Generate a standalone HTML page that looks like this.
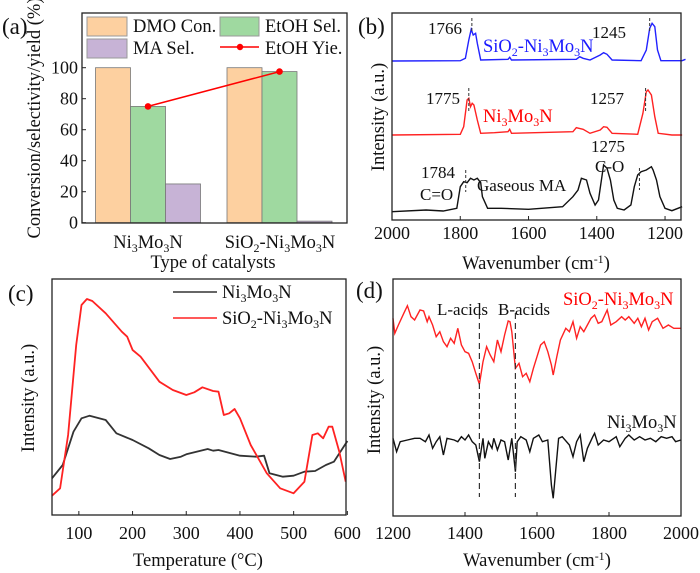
<!DOCTYPE html>
<html><head><meta charset="utf-8">
<style>
html,body{margin:0;padding:0;background:#fff;}
svg{display:block;font-family:"Liberation Serif",serif;}
text{font-size:18.5px;fill:#111;}
.tk{font-size:18px;}
</style></head>
<body>
<svg id="fig" width="700" height="573" viewBox="0 0 700 573">
<text x="2" y="34" style="font-size:23px">(a)</text>
<text x="358" y="34" style="font-size:23px">(b)</text>
<text x="8" y="301" style="font-size:23px">(c)</text>
<text x="356" y="298" style="font-size:23px">(d)</text>

<g id="pa"></g>
<rect x="82" y="13" width="265" height="210" fill="none" stroke="#222" stroke-width="1.3"/>
<text transform="translate(40,118) rotate(-90)" text-anchor="middle">Conversion/selectivity/yield (%)</text>
<text x="148" y="248" text-anchor="middle">Ni<tspan dy="4" style="font-size:12px">3</tspan><tspan dy="-4">Mo</tspan><tspan dy="4" style="font-size:12px">3</tspan><tspan dy="-4">N</tspan></text>
<text x="280" y="248" text-anchor="middle">SiO<tspan dy="4" style="font-size:12px">2</tspan><tspan dy="-4">-Ni</tspan><tspan dy="4" style="font-size:12px">3</tspan><tspan dy="-4">Mo</tspan><tspan dy="4" style="font-size:12px">3</tspan><tspan dy="-4">N</tspan></text>
<text x="213" y="268" text-anchor="middle">Type of catalysts</text>
<g>
<rect x="87" y="17" width="40" height="19" fill="#fdd0a0" stroke="#999"/>
<text x="133" y="32">DMO Con.</text>
<rect x="220" y="17" width="39" height="19" fill="#9fd9a0" stroke="#999"/>
<text x="265" y="32">EtOH Sel.</text>
<rect x="87" y="39" width="40" height="19" fill="#c7b3d6" stroke="#999"/>
<text x="133" y="54">MA Sel.</text>
<line x1="220" y1="47" x2="259" y2="47" stroke="#f00" stroke-width="1.5"/>
<circle cx="240" cy="47" r="3.2" fill="#f00"/>
<text x="265" y="54">EtOH Yie.</text>
</g>

<g id="pb"></g>
<rect x="392" y="13" width="289" height="207" fill="none" stroke="#222" stroke-width="1.3"/>
<text transform="translate(384,117) rotate(-90)" text-anchor="middle">Intensity (a.u.)</text>
<text x="536" y="269" text-anchor="middle">Wavenumber (cm<tspan dy="-6" style="font-size:12px">-1</tspan><tspan dy="6">)</tspan></text>
<text x="428" y="34" style="font-size:17px">1766</text>
<text x="592" y="38" style="font-size:17px">1245</text>
<text x="483" y="52" style="font-size:18.5px;fill:#1a1aff">SiO<tspan dy="4" style="font-size:12px">2</tspan><tspan dy="-4">-Ni</tspan><tspan dy="4" style="font-size:12px">3</tspan><tspan dy="-4">Mo</tspan><tspan dy="4" style="font-size:12px">3</tspan><tspan dy="-4">N</tspan></text>
<text x="426" y="104" style="font-size:17px">1775</text>
<text x="590" y="104" style="font-size:17px">1257</text>
<text x="483" y="122" style="font-size:18.5px;fill:#f00">Ni<tspan dy="4" style="font-size:12px">3</tspan><tspan dy="-4">Mo</tspan><tspan dy="4" style="font-size:12px">3</tspan><tspan dy="-4">N</tspan></text>
<text x="591" y="152" style="font-size:17px">1275</text>
<text x="595" y="172" style="font-size:17px">C-O</text>
<text x="421" y="178" style="font-size:17px">1784</text>
<text x="420" y="200" style="font-size:17px">C=O</text>
<text x="477" y="191" style="font-size:17px">Gaseous MA</text>

<g id="pc"></g>
<rect x="52" y="279" width="294" height="236" fill="none" stroke="#222" stroke-width="1.3"/>
<text transform="translate(34,398) rotate(-90)" text-anchor="middle">Intensity (a.u.)</text>
<text x="198" y="566" text-anchor="middle">Temperature (°C)</text>
<g>
<line x1="173" y1="292" x2="217" y2="292" stroke="#333" stroke-width="1.5"/>
<text x="222" y="298">Ni<tspan dy="4" style="font-size:12px">3</tspan><tspan dy="-4">Mo</tspan><tspan dy="4" style="font-size:12px">3</tspan><tspan dy="-4">N</tspan></text>
<line x1="173" y1="318" x2="217" y2="318" stroke="#f22" stroke-width="1.5"/>
<text x="222" y="324">SiO<tspan dy="4" style="font-size:12px">2</tspan><tspan dy="-4">-Ni</tspan><tspan dy="4" style="font-size:12px">3</tspan><tspan dy="-4">Mo</tspan><tspan dy="4" style="font-size:12px">3</tspan><tspan dy="-4">N</tspan></text>
</g>

<g id="pd"></g>
<rect x="393" y="279" width="288" height="237" fill="none" stroke="#222" stroke-width="1.3"/>
<text transform="translate(380,400) rotate(-90)" text-anchor="middle">Intensity (a.u.)</text>
<text x="537" y="566" text-anchor="middle">Wavenumber (cm<tspan dy="-6" style="font-size:12px">-1</tspan><tspan dy="6">)</tspan></text>
<text x="563" y="305" style="font-size:18.5px;fill:#f00">SiO<tspan dy="4" style="font-size:12px">2</tspan><tspan dy="-4">-Ni</tspan><tspan dy="4" style="font-size:12px">3</tspan><tspan dy="-4">Mo</tspan><tspan dy="4" style="font-size:12px">3</tspan><tspan dy="-4">N</tspan></text>
<text x="437" y="315" style="font-size:17px">L-acids</text>
<text x="498" y="315" style="font-size:17px">B-acids</text>
<text x="607" y="428" style="font-size:18.5px">Ni<tspan dy="4" style="font-size:12px">3</tspan><tspan dy="-4">Mo</tspan><tspan dy="4" style="font-size:12px">3</tspan><tspan dy="-4">N</tspan></text>
</svg>

<script>
const catA = ["Ni3Mo3N", "SiO2-Ni3Mo3N"];
const dmoCon = [100, 100];
const etohSel = [75, 97.5];
const maSel = [25, 1];
const etohYie = [75, 97.5];
const yTicksA = [0, 20, 40, 60, 80, 100];

const bBlackW = [2000,1900,1850,1810,1800,1790,1780,1770,1760,1750,1740,1735,1720,1680,1600,1500,1470,1455,1445,1430,1420,1405,1395,1385,1380,1370,1360,1350,1340,1320,1300,1290,1280,1270,1255,1240,1235,1225,1215,1200,1180,1150];
const bBlackI = [8.3,10,9,11.7,33.3,38.3,37.3,41.7,40,41.7,37.3,23.3,11.7,11.7,10.7,13.3,23.3,30,41.7,40,26.7,15,20,43.3,55,51.7,40,20,11.7,10,15,33.3,45,48.3,50,53.3,50,40,23.3,11.7,9.3,13.3];
const bRedW = [2000,1800,1790,1780,1775,1770,1765,1760,1750,1740,1700,1660,1655,1650,1470,1460,1440,1420,1390,1380,1370,1355,1280,1265,1255,1250,1240,1230,1220,1180,1150];
const bRedI = [85,85.7,93.3,120,121.7,113.3,116.7,115,100,86.7,87.3,88.3,90.7,86.7,88.3,92.3,90.7,86.7,90,93.3,92.7,86.7,85.7,106.7,128.3,130,125,103.3,86.7,85,85];
const bBlueW = [2000,1800,1785,1775,1768,1762,1755,1750,1740,1660,1655,1650,1460,1450,1440,1420,1390,1380,1370,1355,1270,1255,1245,1238,1230,1222,1212,1150,1140];
const bBlueI = [159,159.3,161.7,180,190.7,185,186.7,176.7,160,160.7,162.7,160,160.7,163.3,161.7,160,165,167.3,165.7,160,159.3,170,191.7,196.7,193.3,170,159.3,159.3,160.7];
const xTicksB = [2000, 1800, 1600, 1400, 1200];
const peakMarksB = [[1766,18,32],[1245,18,32],[1775,88,112],[1257,88,112],[1784,170,192],[1275,168,190]];

const cBlackT = [50,70,90,105,120,150,160,170,200,230,250,270,290,300,340,350,360,400,430,445,455,480,500,520,540,560,575,600];
const cBlackI = [36.7,50,83.3,96.7,99.3,95,88.3,81.7,75,66.7,60,56,58.3,60.7,66,64.3,65,59.3,58.3,59.3,41.7,38.3,39.3,43.3,44,50,53.3,74];
const cRedT = [50,65,80,95,105,115,125,150,180,190,200,215,250,275,300,315,330,350,360,370,380,390,400,420,450,475,500,520,535,545,555,565,572,585,597];
const cRedI = [19.3,26.7,80,170,210,216,214,201.7,183.3,178.3,165,158.3,133.3,125,120,122.7,127.7,124,123.3,100,101.7,106,96.7,70,41.7,26.7,21.7,33.3,80,81.7,76.7,88.3,88.3,63.3,33.3];
const xTicksC = [100, 200, 300, 400, 500, 600];

const dRedW = [1200,1205,1215,1230,1240,1250,1260,1275,1285,1295,1300,1310,1320,1330,1340,1350,1360,1370,1380,1390,1400,1410,1420,1430,1440,1450,1460,1470,1480,1490,1500,1510,1520,1525,1530,1540,1550,1560,1570,1580,1590,1600,1610,1620,1630,1640,1645,1655,1665,1680,1690,1700,1710,1720,1730,1740,1750,1760,1770,1780,1795,1805,1820,1835,1845,1855,1870,1880,1890,1900,1910,1920,1935,1950,1965,1980,2000];
const dRedI = [197.7,182.7,191,202.7,210.3,199.3,196,206,205,194.3,199.3,191,179.3,184.3,174.3,169.3,177.7,172.7,187.7,171,164.3,162.7,154.3,142.7,131.7,154.3,169.3,161,154.3,176,164.3,181,195,194.3,184.3,147.7,152.7,139.3,142.7,134.3,147.7,159.3,171,174.3,164.3,151,141,159.3,176,187.7,184.3,194.3,177.7,189.3,184.3,191,197.7,201,192.7,194.3,206,191,194.3,199.3,196,199.3,192.7,197.7,189.3,197.7,186,194.3,197.7,187.7,191,187.7,187.7];
const dBlackW = [1200,1210,1220,1240,1260,1275,1290,1300,1310,1320,1330,1340,1350,1370,1380,1390,1400,1410,1420,1430,1440,1450,1455,1465,1475,1480,1490,1500,1510,1520,1530,1540,1545,1555,1570,1580,1590,1605,1615,1630,1640,1645,1650,1660,1670,1690,1700,1710,1720,1730,1740,1755,1760,1770,1785,1800,1820,1830,1845,1855,1870,1885,1900,1915,1930,1945,1960,1975,1985,2000];
const dBlackI = [77.7,64.3,74.3,76,77.7,77.7,74.3,81,67.7,74.3,79.3,61,77.7,76,74.3,79.3,76,81,74.3,71,54.3,77.7,57.7,74.3,67.7,77.7,66,76,74.3,56,77.7,44.3,74.3,79.3,76,64.3,77.7,81,74.3,76,31,17.7,37.7,77.7,79.3,71,59.3,74.3,81,54.3,67.7,79.3,82.7,71,76,74.3,79.3,69.3,77.7,81,76,79.3,76,77.7,74.3,79.3,77.7,79.3,74.3,76];
const xTicksD = [1200, 1400, 1600, 1800, 2000];
const acidLinesD = [1440, 1540];

const NS = "http://www.w3.org/2000/svg";
function mk(parent, tag, attrs) {
  const e = document.createElementNS(NS, tag);
  for (const k in attrs) e.setAttribute(k, attrs[k]);
  parent.appendChild(e);
  return e;
}
function pathFrom(xs, ys, sx, sy) {
  return xs.map((x, i) => (i ? "L" : "M") + sx(x).toFixed(1) + "," + sy(ys[i]).toFixed(1)).join("");
}

(function () {
  const g = document.getElementById("pa");
  const y = v => 222.7 - v * 1.55;
  const groupC = i => 148 + i * 131.5;
  const bw = 35;
  const series = [[dmoCon, "#fdd0a0", "dmo-con"], [etohSel, "#9fd9a0", "etoh-sel"], [maSel, "#c7b3d6", "ma-sel"]];
  series.forEach((s, si) => {
    s[0].forEach((v, i) => {
      const x = groupC(i) + (si - 1) * bw - bw / 2;
      const r = mk(g, "rect", { x: x, y: y(v), width: bw, height: 222.7 - y(v), fill: s[1], stroke: "#777", "stroke-width": 0.8 });
      
      
    });
  });
  const ln = mk(g, "path", { d: pathFrom(etohYie.map((v, i) => i), etohYie, groupC, y), stroke: "#f00", "stroke-width": 1.5, fill: "none" });
  
  
  etohYie.forEach((v, i) => {
    const c = mk(g, "circle", { cx: groupC(i), cy: y(v), r: 3.3, fill: "#f00" });
    
    
  });
  yTicksA.forEach(t => {
    const l = mk(g, "line", { x1: 82, x2: 86, y1: y(t), y2: y(t), stroke: "#222" });
    
    
    const tx = mk(g, "text", { x: 78, y: y(t) + 6, "text-anchor": "end", class: "tk" });
    tx.textContent = t;
    
    
  });
})();

(function () {
  const g = document.getElementById("pb");
  const x = w => 392 + (2000 - w) * 0.3413;
  const y = v => 220 - v;
  [[bBlackW, bBlackI, "#111", "spectrum-gaseous-ma"], [bRedW, bRedI, "#f22", "spectrum-ni3mo3n"], [bBlueW, bBlueI, "#22f", "spectrum-sio2-ni3mo3n"]].forEach(s => {
    const p = mk(g, "path", { d: pathFrom(s[0], s[1], x, y), stroke: s[2], "stroke-width": 1.4, fill: "none" });
    
    
  });
  peakMarksB.forEach(m => {
    const l = mk(g, "line", { x1: x(m[0]), x2: x(m[0]), y1: m[1], y2: m[2], stroke: "#333", "stroke-dasharray": "3,2" });
    
    
  });
  xTicksB.forEach(t => {
    const l = mk(g, "line", { x1: x(t), x2: x(t), y1: 220, y2: 216, stroke: "#222" });
    
    
    const tx = mk(g, "text", { x: x(t), y: 239, "text-anchor": "middle", class: "tk" });
    tx.textContent = t;
    
    
  });
})();

(function () {
  const g = document.getElementById("pc");
  const x = t => 52 + (t - 50) * 0.537;
  const y = v => 515 - v;
  [[cBlackT, cBlackI, "#333", "tpd-ni3mo3n"], [cRedT, cRedI, "#f22", "tpd-sio2-ni3mo3n"]].forEach(s => {
    const p = mk(g, "path", { d: pathFrom(s[0], s[1], x, y), stroke: s[2], "stroke-width": 1.8, fill: "none", "stroke-linejoin": "round" });
    
    
  });
  xTicksC.forEach(t => {
    const l = mk(g, "line", { x1: x(t), x2: x(t), y1: 515, y2: 511, stroke: "#222" });
    
    
    const tx = mk(g, "text", { x: x(t), y: 539, "text-anchor": "middle", class: "tk" });
    tx.textContent = t;
    
    
  });
})();

(function () {
  const g = document.getElementById("pd");
  const x = w => 393 + (w - 1200) * 0.36;
  const y = v => 516 - v;
  [[dBlackW, dBlackI, "#111", "pyir-ni3mo3n"], [dRedW, dRedI, "#f22", "pyir-sio2-ni3mo3n"]].forEach(s => {
    const p = mk(g, "path", { d: pathFrom(s[0], s[1], x, y), stroke: s[2], "stroke-width": 1.4, fill: "none" });
    
    
  });
  acidLinesD.forEach(w => {
    const l = mk(g, "line", { x1: x(w), x2: x(w), y1: 313, y2: 497, stroke: "#333", "stroke-width": 1.2, "stroke-dasharray": "6,4" });
    
    
  });
  xTicksD.forEach(t => {
    const l = mk(g, "line", { x1: x(t), x2: x(t), y1: 516, y2: 512, stroke: "#222" });
    
    
    const tx = mk(g, "text", { x: x(t), y: 539, "text-anchor": "middle", class: "tk" });
    tx.textContent = t;
    
    
  });
})();
</script>
</body></html>
